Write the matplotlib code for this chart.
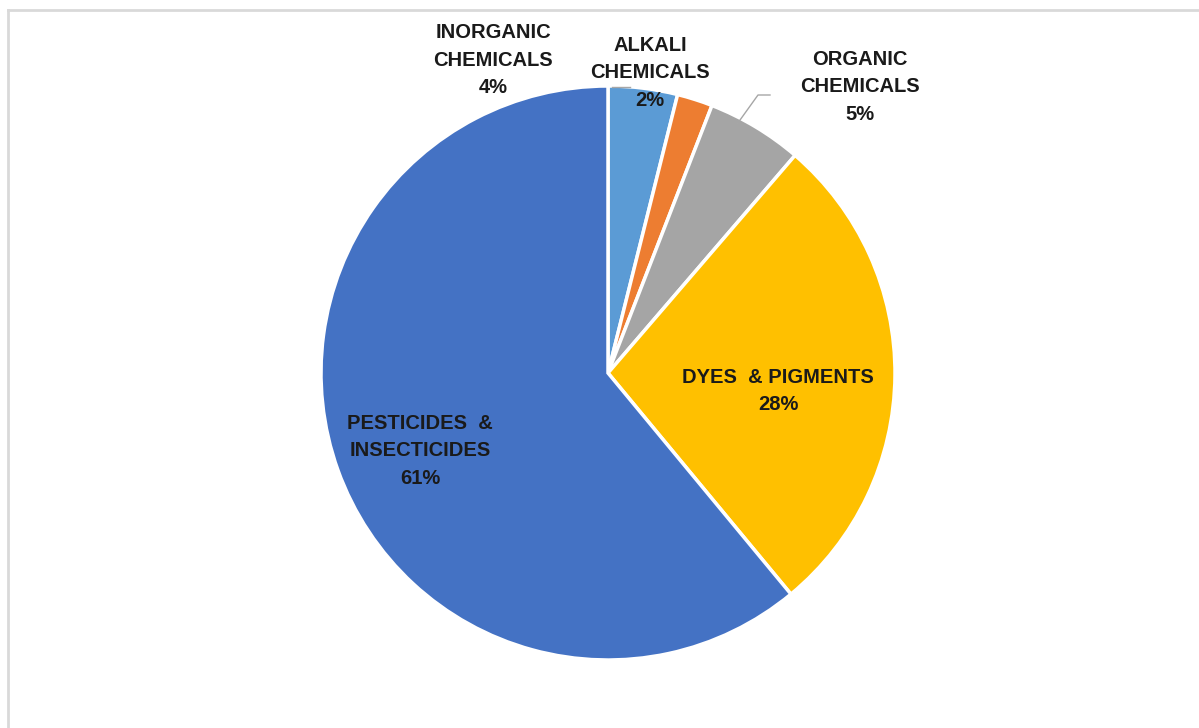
import matplotlib.pyplot as plt
from matplotlib.lines import Line2D

# slice data, clockwise from 12 o'clock
categories = ["INORGANIC\nCHEMICALS", "ALKALI\nCHEMICALS", "ORGANIC\nCHEMICALS",
              "DYES  & PIGMENTS", "PESTICIDES  &\nINSECTICIDES"]
shares = [3.9, 2.0, 5.4, 27.7, 61.0]
pct_labels = ["4%", "2%", "5%", "28%", "61%"]
colors = ["#5B9BD5", "#ED7D31", "#A5A5A5", "#FFC000", "#4472C4"]

W, H = 1199, 728
fig = plt.figure(figsize=(W / 100, H / 100), dpi=100)
ax = fig.add_axes([0, 0, 1, 1])

# pie in pixel units (y measured from bottom)
cx, cy, r = 608, H - 373, 287
ax.pie(shares, colors=colors, startangle=90, counterclock=False,
       center=(cx, cy), radius=r, frame=True,
       wedgeprops=dict(edgecolor="white", linewidth=2.5))
ax.set_xlim(0, W)
ax.set_ylim(0, H)
ax.set_aspect("equal")
ax.axis("off")

# label positions (pixel, from top)
label_pos = [(493, 60), (650, 73), (860, 87), (778, 391), (420, 451)]
font = dict(family="Liberation Sans", fontweight="bold", fontsize=14.5,
            color="#1a1a1a", ha="center", va="center", linespacing=1.55)
for name, pct, (x, y) in zip(categories, pct_labels, label_pos):
    ax.text(x, H - y, f"{name}\n{pct}", **font)

# leader lines
ax.plot([612, 630], [H - 87, H - 87], color="#A6A6A6", lw=1)
ax.plot([735, 758, 770], [H - 127, H - 95, H - 95], color="#A6A6A6", lw=1)

# chart area frame (top and left edges visible)
fig.add_artist(Line2D([8 / W, 1], [1 - 10 / H, 1 - 10 / H], color="#D9D9D9", lw=2))
fig.add_artist(Line2D([8 / W, 8 / W], [0, 1 - 10 / H], color="#D9D9D9", lw=2))

fig.savefig("out.png", dpi=100, facecolor="white")
